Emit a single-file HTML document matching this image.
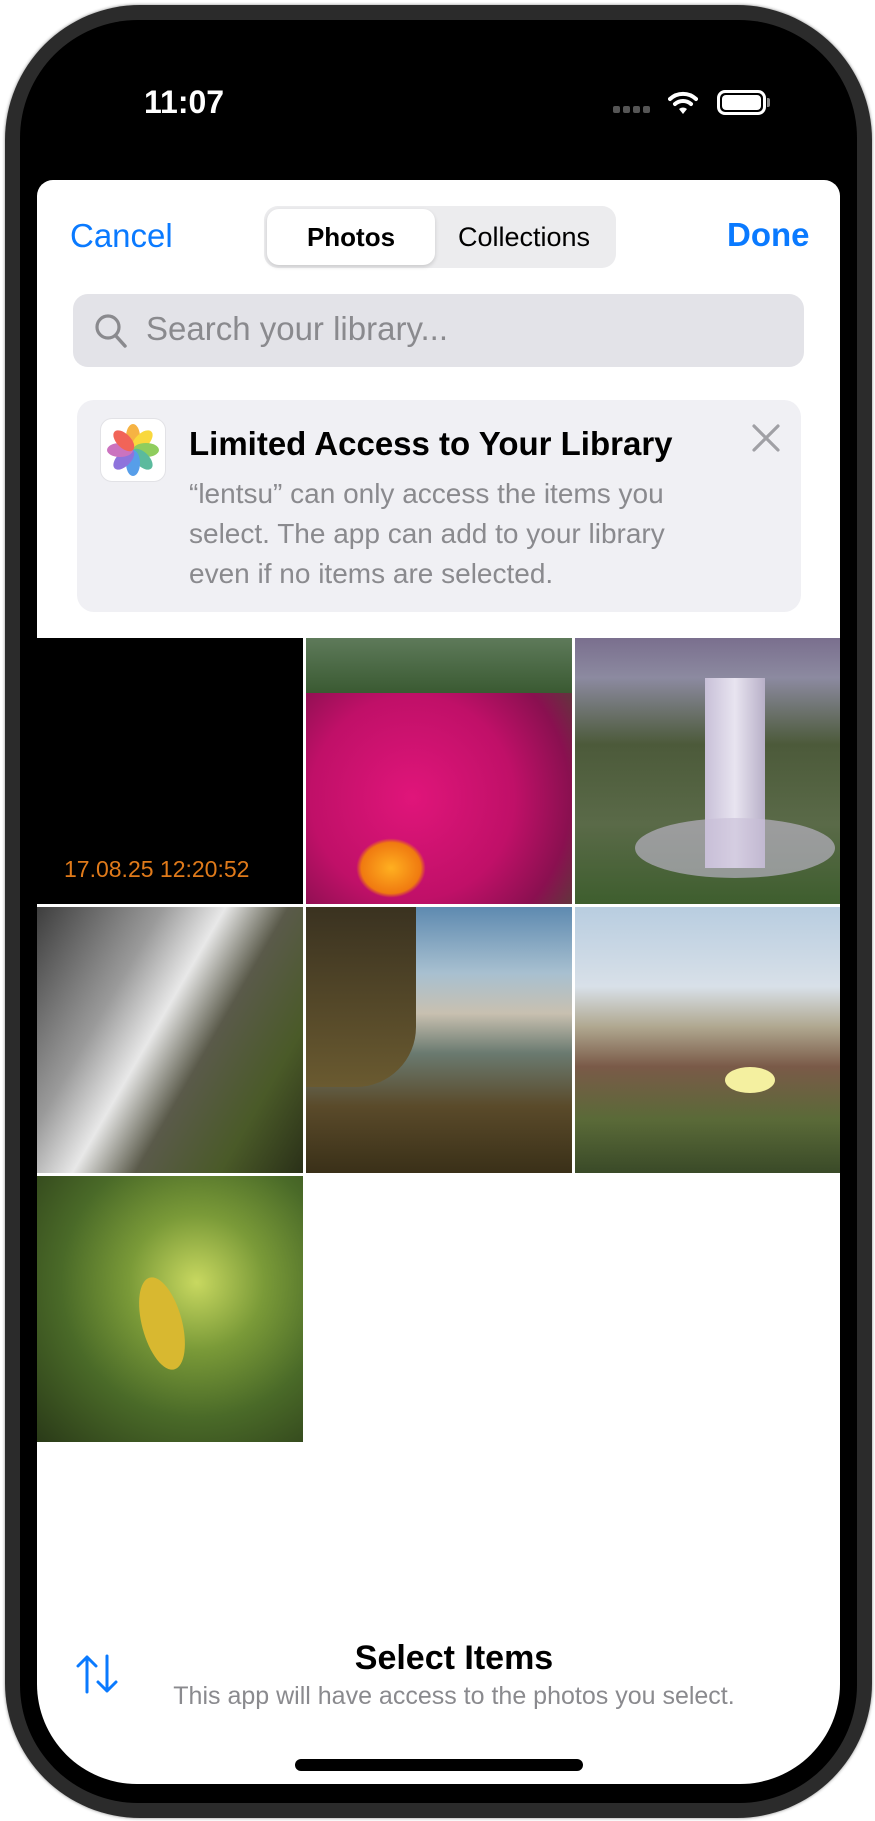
<!DOCTYPE html>
<html><head><meta charset="utf-8">
<style>
*{margin:0;padding:0;box-sizing:border-box}
body{width:875px;height:1821px;background:#fff;position:relative;overflow:hidden;font-family:"Liberation Sans",sans-serif}
.abs{position:absolute}
#frame{left:5px;top:5px;width:867px;height:1813px;border-radius:135px;background:#2b2b2b;box-shadow:0 0 3px #888}
#screen{left:20px;top:20px;width:837px;height:1783px;border-radius:118px;background:#000;overflow:hidden}
#sheet{left:17px;top:160px;width:803px;height:1604px;background:#fff;border-radius:16px 16px 100px 100px;overflow:hidden}
.t{position:absolute;white-space:nowrap}
.cell{position:absolute;width:266px;height:266px;overflow:hidden}
</style></head><body>
<div id="frame" class="abs"></div>
<div id="screen" class="abs">
  <div class="t" style="left:124px;top:64px;font-size:32px;font-weight:bold;color:#fff">11:07</div>
  <div class="abs" style="left:593px;top:86px;width:40px;height:8px">
    <span class="abs" style="left:0;top:0;width:7px;height:7px;border-radius:2px;background:#555"></span>
    <span class="abs" style="left:10px;top:0;width:7px;height:7px;border-radius:2px;background:#555"></span>
    <span class="abs" style="left:20px;top:0;width:7px;height:7px;border-radius:2px;background:#555"></span>
    <span class="abs" style="left:30px;top:0;width:7px;height:7px;border-radius:2px;background:#555"></span>
  </div>
  <svg class="abs" style="left:648px;top:70px" width="30" height="26" viewBox="0 0 30 26">
    <path d="M2 9 A19 19 0 0 1 28 9" stroke="#fff" stroke-width="4" fill="none" stroke-linecap="round"/>
    <path d="M7 14 A12 12 0 0 1 23 14" stroke="#fff" stroke-width="4" fill="none" stroke-linecap="round"/>
    <path d="M11 19 L15 24 L19 19 A6 6 0 0 0 11 19Z" fill="#fff"/>
  </svg>
  <div class="abs" style="left:697px;top:70px;width:49px;height:25px;border:3px solid #fff;border-radius:8px;padding:2px"><div style="width:100%;height:100%;background:#fff;border-radius:4px"></div></div>
  <div class="abs" style="left:747px;top:78px;width:3px;height:9px;background:#888;border-radius:0 2px 2px 0"></div>

  <div id="sheet" class="abs">
    <div class="t" style="left:33px;top:37px;font-size:33px;color:#0a7aff">Cancel</div>
    <div class="t" style="left:690px;top:36px;font-size:33px;font-weight:bold;color:#0a7aff">Done</div>
    <div class="abs" style="left:227px;top:26px;width:352px;height:62px;background:#ececee;border-radius:14px">
      <div class="abs" style="left:3px;top:3px;width:168px;height:56px;background:#fff;border-radius:12px;box-shadow:0 2px 4px rgba(0,0,0,.15);font-size:26px;font-weight:bold;text-align:center;line-height:56px">Photos</div>
      <div class="abs" style="left:171px;top:3px;width:178px;height:56px;font-size:27px;text-align:center;line-height:56px">Collections</div>
    </div>
    <div class="abs" style="left:36px;top:114px;width:731px;height:73px;background:#e3e3e8;border-radius:15px">
      <svg class="abs" style="left:21px;top:19px" width="34" height="36" viewBox="0 0 34 36"><circle cx="14" cy="14" r="11" stroke="#8a8a8e" stroke-width="3.2" fill="none"/><line x1="22" y1="23" x2="31" y2="33" stroke="#8a8a8e" stroke-width="3.5" stroke-linecap="round"/></svg>
      <div class="t" style="left:73px;top:16px;font-size:33px;color:#8a8a8e">Search your library...</div>
    </div>
    <div class="abs" style="left:40px;top:220px;width:724px;height:212px;background:#f0f0f4;border-radius:17px">
      <div class="abs" style="left:23px;top:18px;width:66px;height:64px;background:#fff;border-radius:12px;border:1px solid #e2e2e6">
        <svg width="64" height="62" viewBox="-32 -31 64 62">
          <g opacity="0.85">
          <ellipse cx="0" cy="-13" rx="7" ry="13" fill="#f5a623" transform="rotate(0)"/>
          <ellipse cx="0" cy="-13" rx="7" ry="13" fill="#f8d21c" transform="rotate(45)"/>
          <ellipse cx="0" cy="-13" rx="7" ry="13" fill="#7cc543" transform="rotate(90)"/>
          <ellipse cx="0" cy="-13" rx="7" ry="13" fill="#3fae8c" transform="rotate(135)"/>
          <ellipse cx="0" cy="-13" rx="7" ry="13" fill="#3a8ee6" transform="rotate(180)"/>
          <ellipse cx="0" cy="-13" rx="7" ry="13" fill="#7b5bd6" transform="rotate(225)"/>
          <ellipse cx="0" cy="-13" rx="7" ry="13" fill="#c35bb5" transform="rotate(270)"/>
          <ellipse cx="0" cy="-13" rx="7" ry="13" fill="#ef4a3c" transform="rotate(315)"/>
          </g>
        </svg>
      </div>
      <div class="t" style="left:112px;top:25px;font-size:33px;font-weight:bold;color:#000">Limited Access to Your Library</div>
      <div class="abs" style="left:112px;top:74px;width:530px;font-size:28px;line-height:40px;color:#8a8a8e">“lentsu” can only access the items you select. The app can add to your library even if no items are selected.</div>
      <svg class="abs" style="left:674px;top:23px" width="30" height="30" viewBox="0 0 30 30"><path d="M3 3L27 27M27 3L3 27" stroke="#a0a0a5" stroke-width="3.2" stroke-linecap="round"/></svg>
    </div>

    <div class="cell" style="left:0;top:458px;background:#000">
      <div class="t" style="left:27px;top:218px;font-size:23px;color:#e07a1a">17.08.25 12:20:52</div>
    </div>
    <div class="cell" style="left:269px;top:458px;background:radial-gradient(ellipse at 40% 60%,#e0157a 0%,#c01068 45%,#8a1050 70%,#3a5a2a 100%)">
      <div class="abs" style="left:0;top:0;width:266px;height:55px;background:linear-gradient(#5e7a5a,#3a5a32)"></div>
      <div class="abs" style="left:50px;top:200px;width:70px;height:60px;border-radius:50%;background:radial-gradient(#ffb020,#f07a10 60%,transparent 70%)"></div>
    </div>
    <div class="cell" style="left:538px;top:458px;background:linear-gradient(180deg,#7a6f8e 0%,#8c8aa0 15%,#4c5a3a 40%,#5a6a48 70%,#3e5e2e 100%)">
      <div class="abs" style="left:130px;top:40px;width:60px;height:190px;background:linear-gradient(90deg,#c8c0d8,#e8e4f0,#b8b0c8)"></div>
      <div class="abs" style="left:60px;top:180px;width:200px;height:60px;background:rgba(200,190,215,.6);border-radius:50%"></div>
    </div>
    <div class="cell" style="left:0;top:727px;background:linear-gradient(120deg,#3e3e3e 0%,#9a9a9a 30%,#e8e8e8 45%,#5a5a4a 60%,#4a5a28 80%,#2a3018 100%)"></div>
    <div class="cell" style="left:269px;top:727px;background:linear-gradient(180deg,#5e8ab0 0%,#a8c0d0 25%,#c8c0b0 40%,#6a7a70 55%,#5a4a2a 75%,#3a3018 100%)">
      <div class="abs" style="left:0;top:0;width:110px;height:180px;background:linear-gradient(#3a3220,#6a5a30);border-radius:0 0 60px 0"></div>
    </div>
    <div class="cell" style="left:538px;top:727px;background:linear-gradient(180deg,#b8cde0 0%,#d8e0e8 30%,#b0a890 45%,#7a5a48 60%,#5a6a38 80%,#3a4a28 100%)">
      <div class="abs" style="left:150px;top:160px;width:50px;height:26px;border-radius:50%;background:#f4f0a0"></div>
    </div>
    <div class="cell" style="left:0;top:996px;background:radial-gradient(ellipse at 60% 40%,#c8d860 0%,#7a9a38 30%,#4a6a28 60%,#2a3a18 100%)">
      <div class="abs" style="left:105px;top:100px;width:40px;height:95px;border-radius:50%;background:#d8b830;transform:rotate(-15deg)"></div>
    </div>

    <svg class="abs" style="left:37px;top:1474px" width="46" height="40" viewBox="0 0 46 40">
      <path d="M13 38V3M4 12L13 3L22 12" stroke="#0a7aff" stroke-width="3" fill="none" stroke-linecap="round" stroke-linejoin="round"/>
      <path d="M33 2V37M24 28L33 37L42 28" stroke="#0a7aff" stroke-width="3" fill="none" stroke-linecap="round" stroke-linejoin="round"/>
    </svg>
    <div class="t" style="left:0;width:834px;text-align:center;top:1459px;font-size:34px;font-weight:bold;color:#000">Select Items</div>
    <div class="t" style="left:0;width:834px;text-align:center;top:1502px;font-size:25px;color:#8a8a8e">This app will have access to the photos you select.</div>
    <div class="abs" style="left:258px;top:1579px;width:288px;height:12px;background:#000;border-radius:6px"></div>
  </div>
</div>
</body></html>
